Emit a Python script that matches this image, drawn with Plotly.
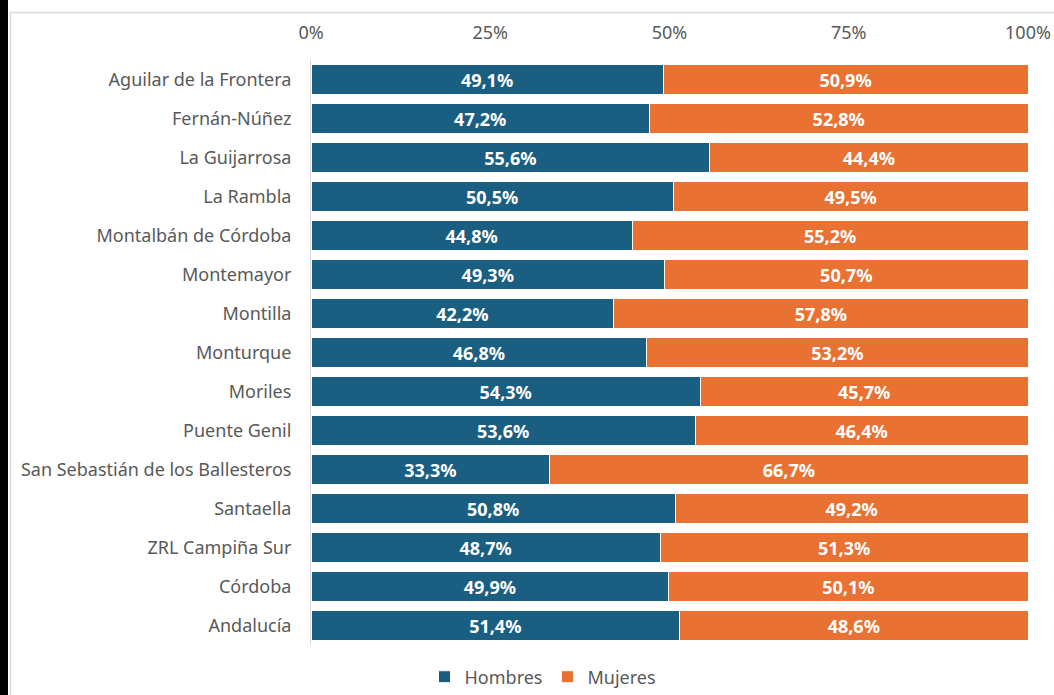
import plotly.graph_objects as go

categorias = ["Aguilar de la Frontera", "Fernán-Núñez", "La Guijarrosa", "La Rambla",
              "Montalbán de Córdoba", "Montemayor", "Montilla", "Monturque", "Moriles",
              "Puente Genil", "San Sebastián de los Ballesteros", "Santaella",
              "ZRL Campiña Sur", "Córdoba", "Andalucía"]
hombres = [49.1, 47.2, 55.6, 50.5, 44.8, 49.3, 42.2, 46.8, 54.3, 53.6, 33.3, 50.8, 48.7, 49.9, 51.4]
mujeres = [50.9, 52.8, 44.4, 49.5, 55.2, 50.7, 57.8, 53.2, 45.7, 46.4, 66.7, 49.2, 51.3, 50.1, 48.6]
tick_vals = [0, 25, 50, 75, 100]
tick_text = ["0%", "25%", "50%", "75%", "100%"]

W, H = 1054, 695
ML, MR, MT, MB = 311, 26, 60, 50
PW, PH = W - ML - MR, H - MT - MB

def px(x):
    return (x - ML) / PW

def py(y):
    return (H - MB - y) / PH

FONT = "Noto Sans"
fig = go.Figure()
fig.add_trace(go.Bar(
    y=categorias, x=hombres, name="Hombres", orientation="h",
    marker=dict(color="#1A5E82", line=dict(color="#ffffff", width=1)),
    texttemplate="%{x:.1f}%", textposition="inside", insidetextanchor="middle",
    textfont=dict(color="white", size=18, family=FONT, weight="bold"),
))
fig.add_trace(go.Bar(
    y=categorias, x=mujeres, name="Mujeres", orientation="h",
    marker=dict(color="#E97132", line=dict(color="#ffffff", width=1)),
    texttemplate="%{x:.1f}%", textposition="inside", insidetextanchor="middle",
    textfont=dict(color="white", size=18, family=FONT, weight="bold"),
))

fig.update_layout(
    width=W, height=H, barmode="stack", bargap=0.22,
    separators=",.",
    margin=dict(l=ML, r=MR, t=MT, b=MB, autoexpand=False),
    paper_bgcolor="white", plot_bgcolor="white",
    font=dict(family=FONT, size=18, color="#595959"),
    uniformtext=dict(minsize=18, mode="show"),
    xaxis=dict(side="top", range=[0, 100], tickvals=tick_vals, ticktext=tick_text,
               showgrid=False, zeroline=False, showline=False, ticklabelstandoff=16,
               tickfont=dict(size=18, color="#595959")),
    yaxis=dict(autorange="reversed", showgrid=False, showline=True, linecolor="#D9D9D9",
               linewidth=1, ticks="", ticklabelstandoff=15,
               tickfont=dict(size=18, color="#595959")),
    legend=dict(orientation="h", x=px(543), xanchor="center", y=py(677), yanchor="middle",
                font=dict(size=18, color="#595959"), itemwidth=30, traceorder="normal"),
    showlegend=True,
    shapes=[
        dict(type="rect", xref="paper", yref="paper", x0=px(0), x1=px(8), y0=py(H + 5), y1=py(-5),
             fillcolor="black", line=dict(width=0), layer="above"),
        dict(type="rect", xref="paper", yref="paper", x0=px(10.5), x1=px(W + 5), y0=py(H + 5), y1=py(12.5),
             fillcolor="rgba(0,0,0,0)", line=dict(color="#D9D9D9", width=1.5), layer="above"),
    ],
)

fig.write_html("out.html", config={"displayModeBar": False},
               post_script="document.body.style.margin='0px';document.body.style.overflow='hidden';")
